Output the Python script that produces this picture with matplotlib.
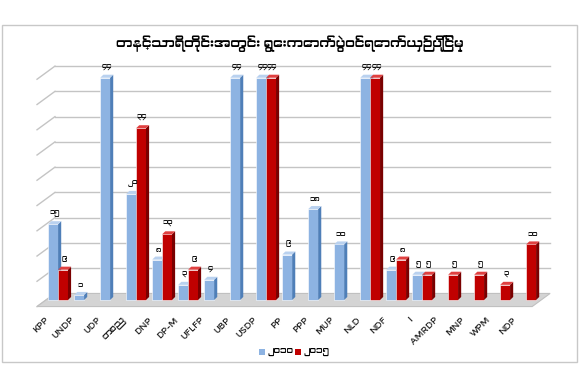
import matplotlib
matplotlib.use("Agg")
import matplotlib.pyplot as plt
from matplotlib import font_manager
from matplotlib.patches import Polygon, Rectangle

# try to find a font that can draw Myanmar script
mm_fonts = [f.name for f in font_manager.fontManager.ttflist
            if 'myanmar' in f.name.lower() or 'padauk' in f.name.lower()]
families = mm_fonts[:1] + ['DejaVu Sans']
plt.rcParams['font.family'] = families

title = "တနင်္သာရီတိုင်းအတွင်း ရွေးကောက်ပွဲဝင်ရောက်ယှဉ်ပြိုင်မှု"
parties = ["KPP", "UNDP", "UDP", "တစည", "DNP", "DP-M", "UFLFP", "UBP", "USDP", "PP",
           "PPP", "MUP", "NLD", "NDF", "I", "AMRDP", "MNP", "WPM", "NDP"]
v2010 = [15, 1, 44, 21, 8, 3, 4, 44, 44, 9, 18, 11, 44, 6, 5, 0, 0, 0, 0]
v2015 = [6, 0, 0, 34, 13, 6, 0, 0, 44, 0, 0, 0, 44, 8, 5, 5, 5, 3, 11]
legend_labels = ["၂၀၁၀", "၂၀၁၅"]
mm_digits = "၀၁၂၃၄၅၆၇၈၉"


def mm_num(n):
    return "".join(mm_digits[int(c)] for c in str(n))


# colours: front, side, top
blue = ("#8db3e2", "#4f7fb8", "#b9d1ef")
red = ("#c00000", "#7a0000", "#e04040")

fig = plt.figure(figsize=(5.8, 3.87), dpi=100)
# grey frame round the chart
fig.patches.append(Rectangle((2 / 580, 25 / 387), 575 / 580, 337 / 387, transform=fig.transFigure,
                             fill=False, edgecolor="#c8c8c8", linewidth=1))
fig.text(0.5, 1 - 44 / 387, title, ha="center", va="center", fontsize=9.5)

ax = fig.add_axes([30 / 580, 1 - 310 / 387, 530 / 580, 255 / 387])
ax.set_xlim(-1.08, 19.3)
ax.set_ylim(-1.98, 48.5)
ax.axis("off")

n = len(parties)
# 3D box: front-left corner, right end, depth
gx0, gx1 = -0.81, 18.23
ddx, ddy = 0.69, 2.6
fy = -1.3

# floor
floor = Polygon([(gx0, fy), (gx1, fy), (gx1 + ddx, fy + ddy), (gx0 + ddx, fy + ddy)],
                closed=True, facecolor="#d4d4d4", edgecolor="#c0c0c0", linewidth=0.8, zorder=1)
ax.add_patch(floor)

# grid lines on back wall, diagonals on the left wall
for v in range(0, 50, 5):
    yb = v + fy + ddy
    if v > 0:
        ax.plot([gx0 + ddx, gx1 + ddx], [yb, yb], color="#c4c4c4", linewidth=1, zorder=0)
    ax.plot([gx0, gx0 + ddx], [yb - ddy, yb], color="#c4c4c4", linewidth=1, zorder=0)

w = 0.38
sx, sy = 0.12, 0.6


def bar3d(x, h, cols):
    if h <= 0:
        return
    ax.bar(x, h, width=w, align="edge", color=cols[0], edgecolor="white", linewidth=0.4, zorder=3)
    side = Polygon([(x + w, 0), (x + w + sx, sy), (x + w + sx, h + sy), (x + w, h)],
                   closed=True, facecolor=cols[1], edgecolor="none", zorder=3)
    top = Polygon([(x, h), (x + w, h), (x + w + sx, h + sy), (x + sx, h + sy)],
                  closed=True, facecolor=cols[2], edgecolor="none", zorder=3)
    ax.add_patch(side)
    ax.add_patch(top)
    ax.text(x + w / 2 + 0.05, h + 1.4, mm_num(h), ha="center", va="bottom", fontsize=5.2, zorder=4)


for i in range(n):
    bar3d(i - w, v2010[i], blue)
    bar3d(i, v2015[i], red)
    ax.text(i - 0.3, -3.0, parties[i], rotation=45, ha="right", va="top",
            fontsize=6.5, fontweight="bold", color="#222222")

# legend
fig.patches.append(Rectangle((259 / 580, 1 - 355 / 387), 6 / 580, 6 / 387, transform=fig.transFigure,
                             facecolor=blue[0], edgecolor="none"))
fig.text(268 / 580, 1 - 352 / 387, legend_labels[0], va="center", fontsize=6.5)
fig.patches.append(Rectangle((295 / 580, 1 - 355 / 387), 6 / 580, 6 / 387, transform=fig.transFigure,
                             facecolor=red[0], edgecolor="none"))
fig.text(304 / 580, 1 - 352 / 387, legend_labels[1], va="center", fontsize=6.5)

fig.savefig("out.png", dpi=100)
